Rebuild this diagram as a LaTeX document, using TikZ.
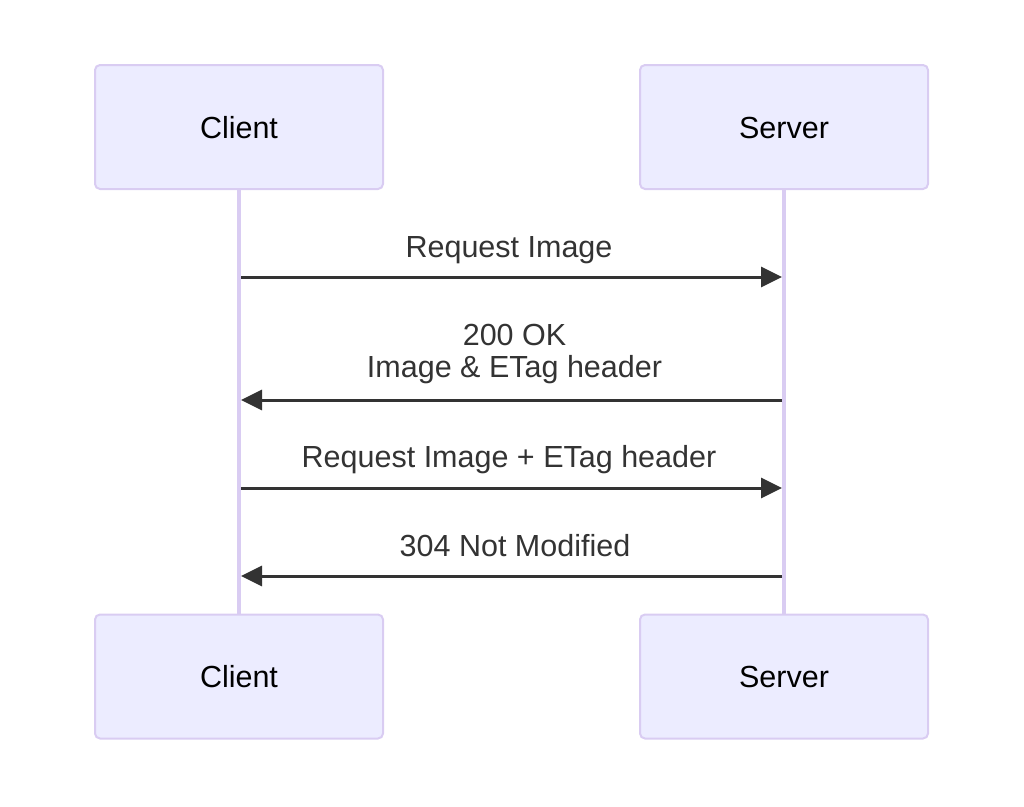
\documentclass[tikz,border=0pt]{standalone}
\usepackage{fontspec}
\setmainfont{Liberation Sans}
\usetikzlibrary{arrows.meta}
\definecolor{actfill}{HTML}{ECECFF}
\definecolor{actline}{HTML}{D9CCF2}
\definecolor{msgcol}{HTML}{333333}
\tikzset{
  actor/.style={draw=actline, line width=2pt, fill=actfill, rounded corners=5pt,
    minimum width=288pt, minimum height=124pt, inner sep=0pt},
  actlabel/.style={font=\fontsize{30.5}{35}\selectfont, text=black, anchor=base, inner sep=0pt},
  lifeline/.style={draw=actline, line width=3.5pt},
  msg/.style={draw=msgcol, line width=3pt, -{Triangle[length=21pt,width=20pt]}},
  msglabel/.style={font=\fontsize{30.5}{35}\selectfont, text=msgcol, anchor=base, inner sep=0pt}
}
\begin{document}
\begin{tikzpicture}[x=1pt,y=-1pt]
\useasboundingbox (0,0) rectangle (1024,806);
% lifelines
\coordinate (c0) at (239,189);
\coordinate (c9) at (239,614);
\coordinate (s0) at (784,189);
\coordinate (s9) at (784,614);
\draw[lifeline] (c0) -- (c9);
\draw[lifeline] (s0) -- (s9);
% actors
\node[actor] (ct) at (239,127) {};
\node[actor] (st) at (784,127) {};
\node[actor] (cb) at (239,676.5) {};
\node[actor] (sb) at (784,676.5) {};
\node[actlabel] (ctl) at (239,138) {Client};
\node[actlabel] (stl) at (784,138) {Server};
\node[actlabel] (cbl) at (239,687) {Client};
\node[actlabel] (sbl) at (784,687) {Server};
% message points
\coordinate (c1) at (241,277);
\coordinate (s1) at (782,277);
\coordinate (c2) at (241,400);
\coordinate (s2) at (782,400);
\coordinate (c3) at (241,488);
\coordinate (s3) at (782,488);
\coordinate (c4) at (241,576);
\coordinate (s4) at (782,576);
\draw[msg] (c1) -- (s1);
\draw[msg] (s2) -- (c2);
\draw[msg] (c3) -- (s3);
\draw[msg] (s4) -- (c4);
% labels
\node[msglabel] (l1) at (509,257) {Request Image};
\node[msglabel] (l2a) at (514.5,345) {200 OK};
\node[msglabel] (l2b) at (514.5,377) {Image \& ETag header};
\node[msglabel] (l3) at (509,467) {Request Image + ETag header};
\node[msglabel] (l4) at (515,556) {304 Not Modified};
\end{tikzpicture}
\end{document}
